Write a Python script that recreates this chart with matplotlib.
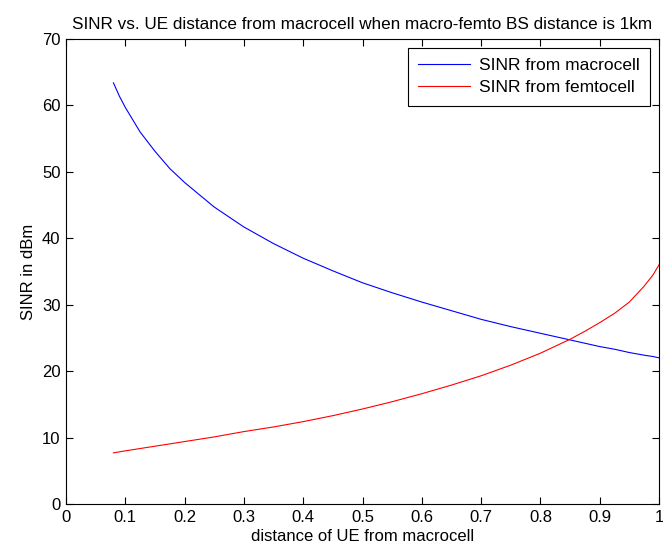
import numpy as np
from matplotlib import pyplot as plt

plt.rcParams['font.family'] = ['Liberation Sans', 'DejaVu Sans']

#distance of UE from macrocell
d = [0.08, 0.09, 0.10, 0.125, 0.15, 0.175, 0.20, 0.25, 0.30, 0.35, 0.40, 0.45, 0.50,
     0.55, 0.60, 0.65, 0.70, 0.75, 0.80, 0.85, 0.875, 0.90, 0.925, 0.95, 0.975, 0.99, 1.00]

#SINR
sinr_macro = [63.4, 61.4, 59.7, 56.0, 53.1, 50.5, 48.4, 44.7, 41.7, 39.2, 37.0, 35.1, 33.3,
              31.8, 30.4, 29.1, 27.8, 26.7, 25.7, 24.7, 24.2, 23.7, 23.3, 22.8, 22.4, 22.2, 22.0]
sinr_femto = [7.7, 7.85, 8.0, 8.35, 8.7, 9.05, 9.4, 10.1, 10.9, 11.6, 12.4, 13.3, 14.3,
              15.4, 16.6, 17.9, 19.3, 20.9, 22.7, 24.8, 26.0, 27.3, 28.7, 30.4, 32.8, 34.5, 36.0]

xticks = [0, 0.1, 0.2, 0.3, 0.4, 0.5, 0.6, 0.7, 0.8, 0.9, 1]
xticklabels = ['0', '0.1', '0.2', '0.3', '0.4', '0.5', '0.6', '0.7', '0.8', '0.9', '1']

fig = plt.figure(figsize=(6.63, 5.53), dpi=100)
ax = fig.add_axes([66/663, 1-504/553, 593/663, 465/553])

ax.plot(d, sinr_macro, color='#0000ff', lw=0.8, label='SINR from macrocell')
ax.plot(d, sinr_femto, color='#ff0000', lw=0.8, label='SINR from femtocell')

ax.set_xlim(0, 1)
ax.set_ylim(0, 70)
ax.set_xticks(xticks)
ax.set_xticklabels(xticklabels)
ax.set_yticks(range(0, 71, 10))
ax.tick_params(direction='in', top=True, right=True, length=5, width=0.8,
               labelsize=12, pad=4)
for s in ax.spines.values():
    s.set_linewidth(0.8)

ax.set_title('SINR vs. UE distance from macrocell when macro-femto BS distance is 1km',
             fontsize=12.3, pad=7)
ax.set_xlabel('distance of UE from macrocell', fontsize=12, labelpad=3)
ax.set_ylabel('SINR in dBm', fontsize=12, labelpad=4)

leg = ax.legend(loc='upper right', fontsize=12.5, fancybox=False, framealpha=1,
                edgecolor='black', handlelength=3.0, borderaxespad=0.5,
                borderpad=0.6, labelspacing=0.4, handletextpad=0.5)
leg.get_frame().set_linewidth(0.8)

fig.savefig('out.png', dpi=100)
